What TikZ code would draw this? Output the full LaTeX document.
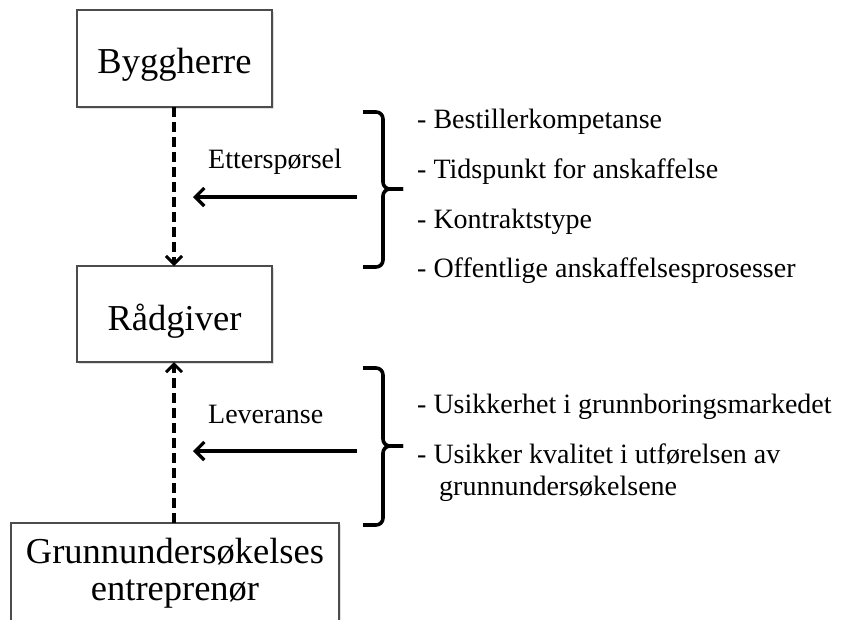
\documentclass[tikz,border=0pt]{standalone}
\usepackage{fontspec}
\setmainfont{Liberation Serif}
\usetikzlibrary{arrows.meta,shadows}
\begin{document}
\begin{tikzpicture}[x=1pt,y=-1pt,
  boxnode/.style={draw=black!70,line width=1.4pt,fill=white,
    drop shadow={shadow xshift=1.5pt,shadow yshift=-1.5pt,opacity=0.25}},
  boxtext/.style={font=\fontsize{36.5}{40}\selectfont,anchor=base,inner sep=0pt},
  labtext/.style={font=\fontsize{28}{32}\selectfont,anchor=base west,inner sep=0pt},
  dasharrow/.style={line width=3.4pt,dash pattern=on 10pt off 5pt,
    -{Straight Barb[length=8pt,width=16pt,line width=3pt]}},
  solidarrow/.style={line width=3.6pt,
    -{Straight Barb[length=9pt,width=18pt,line width=3.2pt]}},
  bracket/.style={line width=3.6pt,rounded corners=7pt}]
\useasboundingbox (0,0) rectangle (842,619);
% boxes
\draw[boxnode] (77,10) rectangle (272,107);
\draw[boxnode] (77,266) rectangle (272,362);
\draw[boxnode] (11,523) rectangle (339,640);
\node[boxtext] (bygg) at (174.5,73) {Byggherre};
\node[boxtext] (rad) at (174.5,330) {Rådgiver};
\node[boxtext] (grunn1) at (175,563) {Grunnundersøkelses};
\node[boxtext] (grunn2) at (175,600) {entreprenør};
\coordinate (byggS) at (174,107);
\coordinate (radN) at (174,266);
\coordinate (radS) at (174,362);
\coordinate (grunnN) at (174,523);
% dashed arrows
\draw[dasharrow] (byggS) -- (radN);
\draw[dasharrow] (grunnN) -- (radS);
% brackets
\draw[bracket] (363,112) -- (383,112) -- (383,189) -- (403,189);
\draw[bracket] (403,189) -- (383,189) -- (383,267) -- (363,267);
\draw[bracket] (363,368) -- (383,368) -- (383,446) -- (403,446);
\draw[bracket] (403,446) -- (383,446) -- (383,525) -- (363,525);
% horizontal arrows
\coordinate (a1s) at (357,197);
\coordinate (a1e) at (193,197);
\coordinate (a2s) at (357,451);
\coordinate (a2e) at (193,451);
\draw[solidarrow] (a1s) -- (a1e);
\draw[solidarrow] (a2s) -- (a2e);
\node[labtext] (ett) at (208,168) {Etterspørsel};
\node[labtext] (lev) at (208,423) {Leveranse};
% lists
\node[labtext] (l1) at (417,128) {- Bestillerkompetanse};
\node[labtext] (l2) at (417,178) {- Tidspunkt for anskaffelse};
\node[labtext] (l3) at (417,228) {- Kontraktstype};
\node[labtext] (l4) at (417,277) {- Offentlige anskaffelsesprosesser};
\node[labtext] (m1) at (417,413) {- Usikkerhet i grunnboringsmarkedet};
\node[labtext] (m2) at (417,463) {- Usikker kvalitet i utførelsen av};
\node[labtext] (m3) at (439,495) {grunnundersøkelsene};
\end{tikzpicture}
\end{document}
